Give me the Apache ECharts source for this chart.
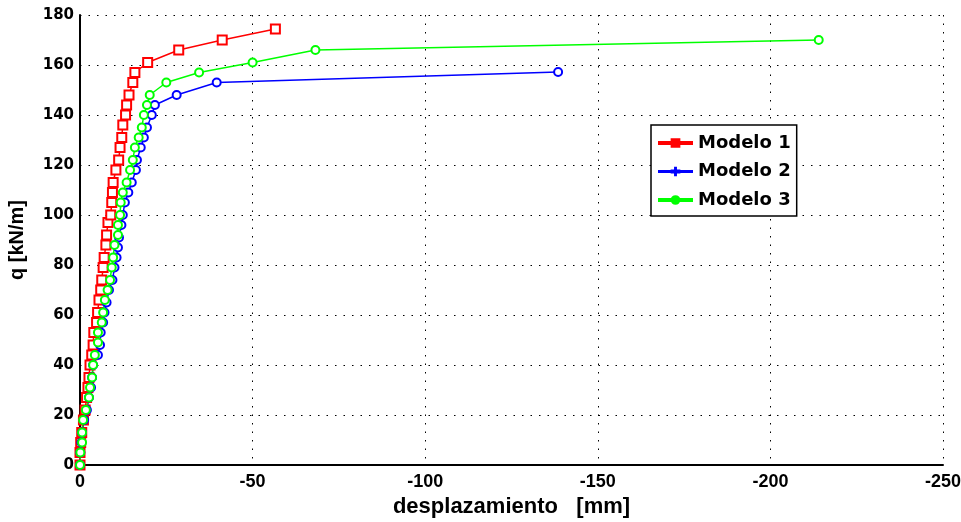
<!DOCTYPE html>
<html>
<head>
<meta charset="utf-8">
<script src="https://cdn.jsdelivr.net/npm/echarts@6/dist/echarts.min.js"></script>
<style>html,body{margin:0;padding:0;background:#fff}#c{width:961px;height:522px}</style>
</head>
<body>
<div id="c"></div>
<script>
// Modelo 1 (red squares)
const m1Disp = [0,0,-0.2,-0.5,-1,-1.5,-1.9,-2.3,-2.6,-2.9,-3.4,-3.8,-4,-4.8,-5.1,-5.5,-6,-6.3,-6.7,-7,-7.5,-7.7,-8.1,-8.9,-9.2,-9.4,-9.6,-10.4,-11.2,-11.6,-12.1,-12.4,-13.2,-13.5,-14.2,-15.3,-15.9,-19.6,-28.6,-41.2,-56.6];
const m1Load = [0,5,9,13,18,22,27,31,35,40,44,48,53,57,61,66,70,74,79,83,88,92,97,100,105,109,113,118,122,127,131,136,140,144,148,153,157,161,166,170,174.4];
// Modelo 2 (blue circles)
const m2Disp = [0,-0.1,-0.4,-0.6,-1.2,-2,-2.6,-3.2,-3.5,-3.8,-5.2,-5.8,-6,-6.7,-7.1,-7.7,-8.4,-9.4,-10,-10.6,-11,-11.3,-12,-12.4,-13,-14,-15,-16.2,-16.5,-17.6,-18.5,-19.4,-20.8,-21.7,-28,-39.6,-138.5];
const m2Load = [0,5,9,13,18,22,27,31,35,40,44,48,53,57,61,65,70,74,79,83,87,91,96,100,105,109,113,118,122,127,131,135,140,144,148,153,157.2];
// Modelo 3 (green circles)
const m3Disp = [0,-0.1,-0.6,-0.6,-0.9,-1.7,-2.6,-2.9,-3.5,-3.8,-4.3,-5.2,-5.2,-6.3,-6.7,-7.2,-8,-8.7,-9.2,-9.6,-10,-11,-11,-11.6,-11.8,-12.4,-13.5,-14.5,-15.3,-15.9,-17,-17.9,-18.5,-19.4,-20.2,-25,-34.5,-50,-68.2,-214];
const m3Load = [0,5,9,13,18,22,27,31,35,40,44,49,53,57,61,66,70,74,79,83,88,92,96,100,105,109,113,118,122,127,131,135,140,144,148,153,157,161,166,170];

const seriesNames = ['Modelo 1','Modelo 2','Modelo 3'];
const xTicks = [0,-50,-100,-150,-200,-250];
const yTicks = [0,20,40,60,80,100,120,140,160,180];

const pairs = (xs, ys) => xs.map((x, i) => [x, ys[i]]);

// legend icons: line with a filled marker in the middle
const iconSquare = 'path://M0,4L36,4L36,8L0,8Z M13,1L23,1L23,11L13,11Z';
const iconPlus = 'path://M0,4.5L36,4.5L36,7.5L0,7.5Z M16.5,1L19.5,1L19.5,11L16.5,11Z M13,4L23,4L23,8L13,8Z';
const iconDot = 'path://M0,4L36,4L36,8L0,8Z M13,6A5,5 0 1,1 23,6A5,5 0 1,1 13,6Z';

const chart = echarts.init(document.getElementById('c'), null, {renderer: 'canvas'});
const gridLine = {show: true, lineStyle: {color: '#000', width: 1, type: [1.5, 7]}};
chart.setOption({
  animation: false,
  backgroundColor: '#fff',
  grid: {left: 80, right: 18, top: 15, bottom: 57, containLabel: false, outerBoundsMode: 'none'},
  xAxis: {
    type: 'value', min: -250, max: 0, interval: 50, inverse: true,
    name: 'desplazamiento   [mm]', nameLocation: 'middle', nameGap: 29,
    nameTextStyle: {fontFamily: 'Liberation Sans', fontWeight: 'bold', fontSize: 22, color: '#000'},
    axisLine: {show: true, onZero: false, lineStyle: {color: '#000', width: 2}},
    axisTick: {show: false},
    axisLabel: {color: '#000', fontFamily: 'Liberation Sans', fontWeight: 'bold', fontSize: 18, margin: 8},
    splitLine: gridLine
  },
  yAxis: {
    type: 'value', min: 0, max: 180, interval: 20,
    name: 'q [kN/m]', nameLocation: 'middle', nameGap: 53,
    nameTextStyle: {fontFamily: 'Liberation Sans', fontWeight: 'bold', fontSize: 20, color: '#000'},
    axisLine: {show: true, lineStyle: {color: '#000', width: 2}},
    axisTick: {show: false},
    axisLabel: {color: '#000', fontFamily: 'DejaVu Sans', fontWeight: 'bold', fontSize: 15, margin: 6},
    splitLine: gridLine
  },
  legend: {
    orient: 'vertical', left: 651, top: 125,
    padding: [8, 6, 6, 7],
    backgroundColor: '#fff', borderColor: '#000', borderWidth: 1.5,
    itemWidth: 35, itemHeight: 10, itemGap: 8.5,
    textStyle: {fontFamily: 'DejaVu Sans', fontWeight: 'bold', fontSize: 18, color: '#000', lineHeight: 20},
    data: [
      {name: seriesNames[0], icon: iconSquare},
      {name: seriesNames[1], icon: iconPlus},
      {name: seriesNames[2], icon: iconDot}
    ]
  },
  series: [
    {name: seriesNames[0], type: 'line', data: pairs(m1Disp, m1Load), color: '#ff0000',
     symbol: 'emptyRect', symbolSize: 9, lineStyle: {width: 1.5}, itemStyle: {borderWidth: 1.5}},
    {name: seriesNames[1], type: 'line', data: pairs(m2Disp, m2Load), color: '#0000ff',
     symbol: 'emptyCircle', symbolSize: 8, lineStyle: {width: 1.5}, itemStyle: {borderWidth: 1.5}},
    {name: seriesNames[2], type: 'line', data: pairs(m3Disp, m3Load), color: '#00ff00',
     symbol: 'emptyCircle', symbolSize: 8, lineStyle: {width: 1.5}, itemStyle: {borderWidth: 1.5}}
  ]
});
</script>
</body>
</html>
